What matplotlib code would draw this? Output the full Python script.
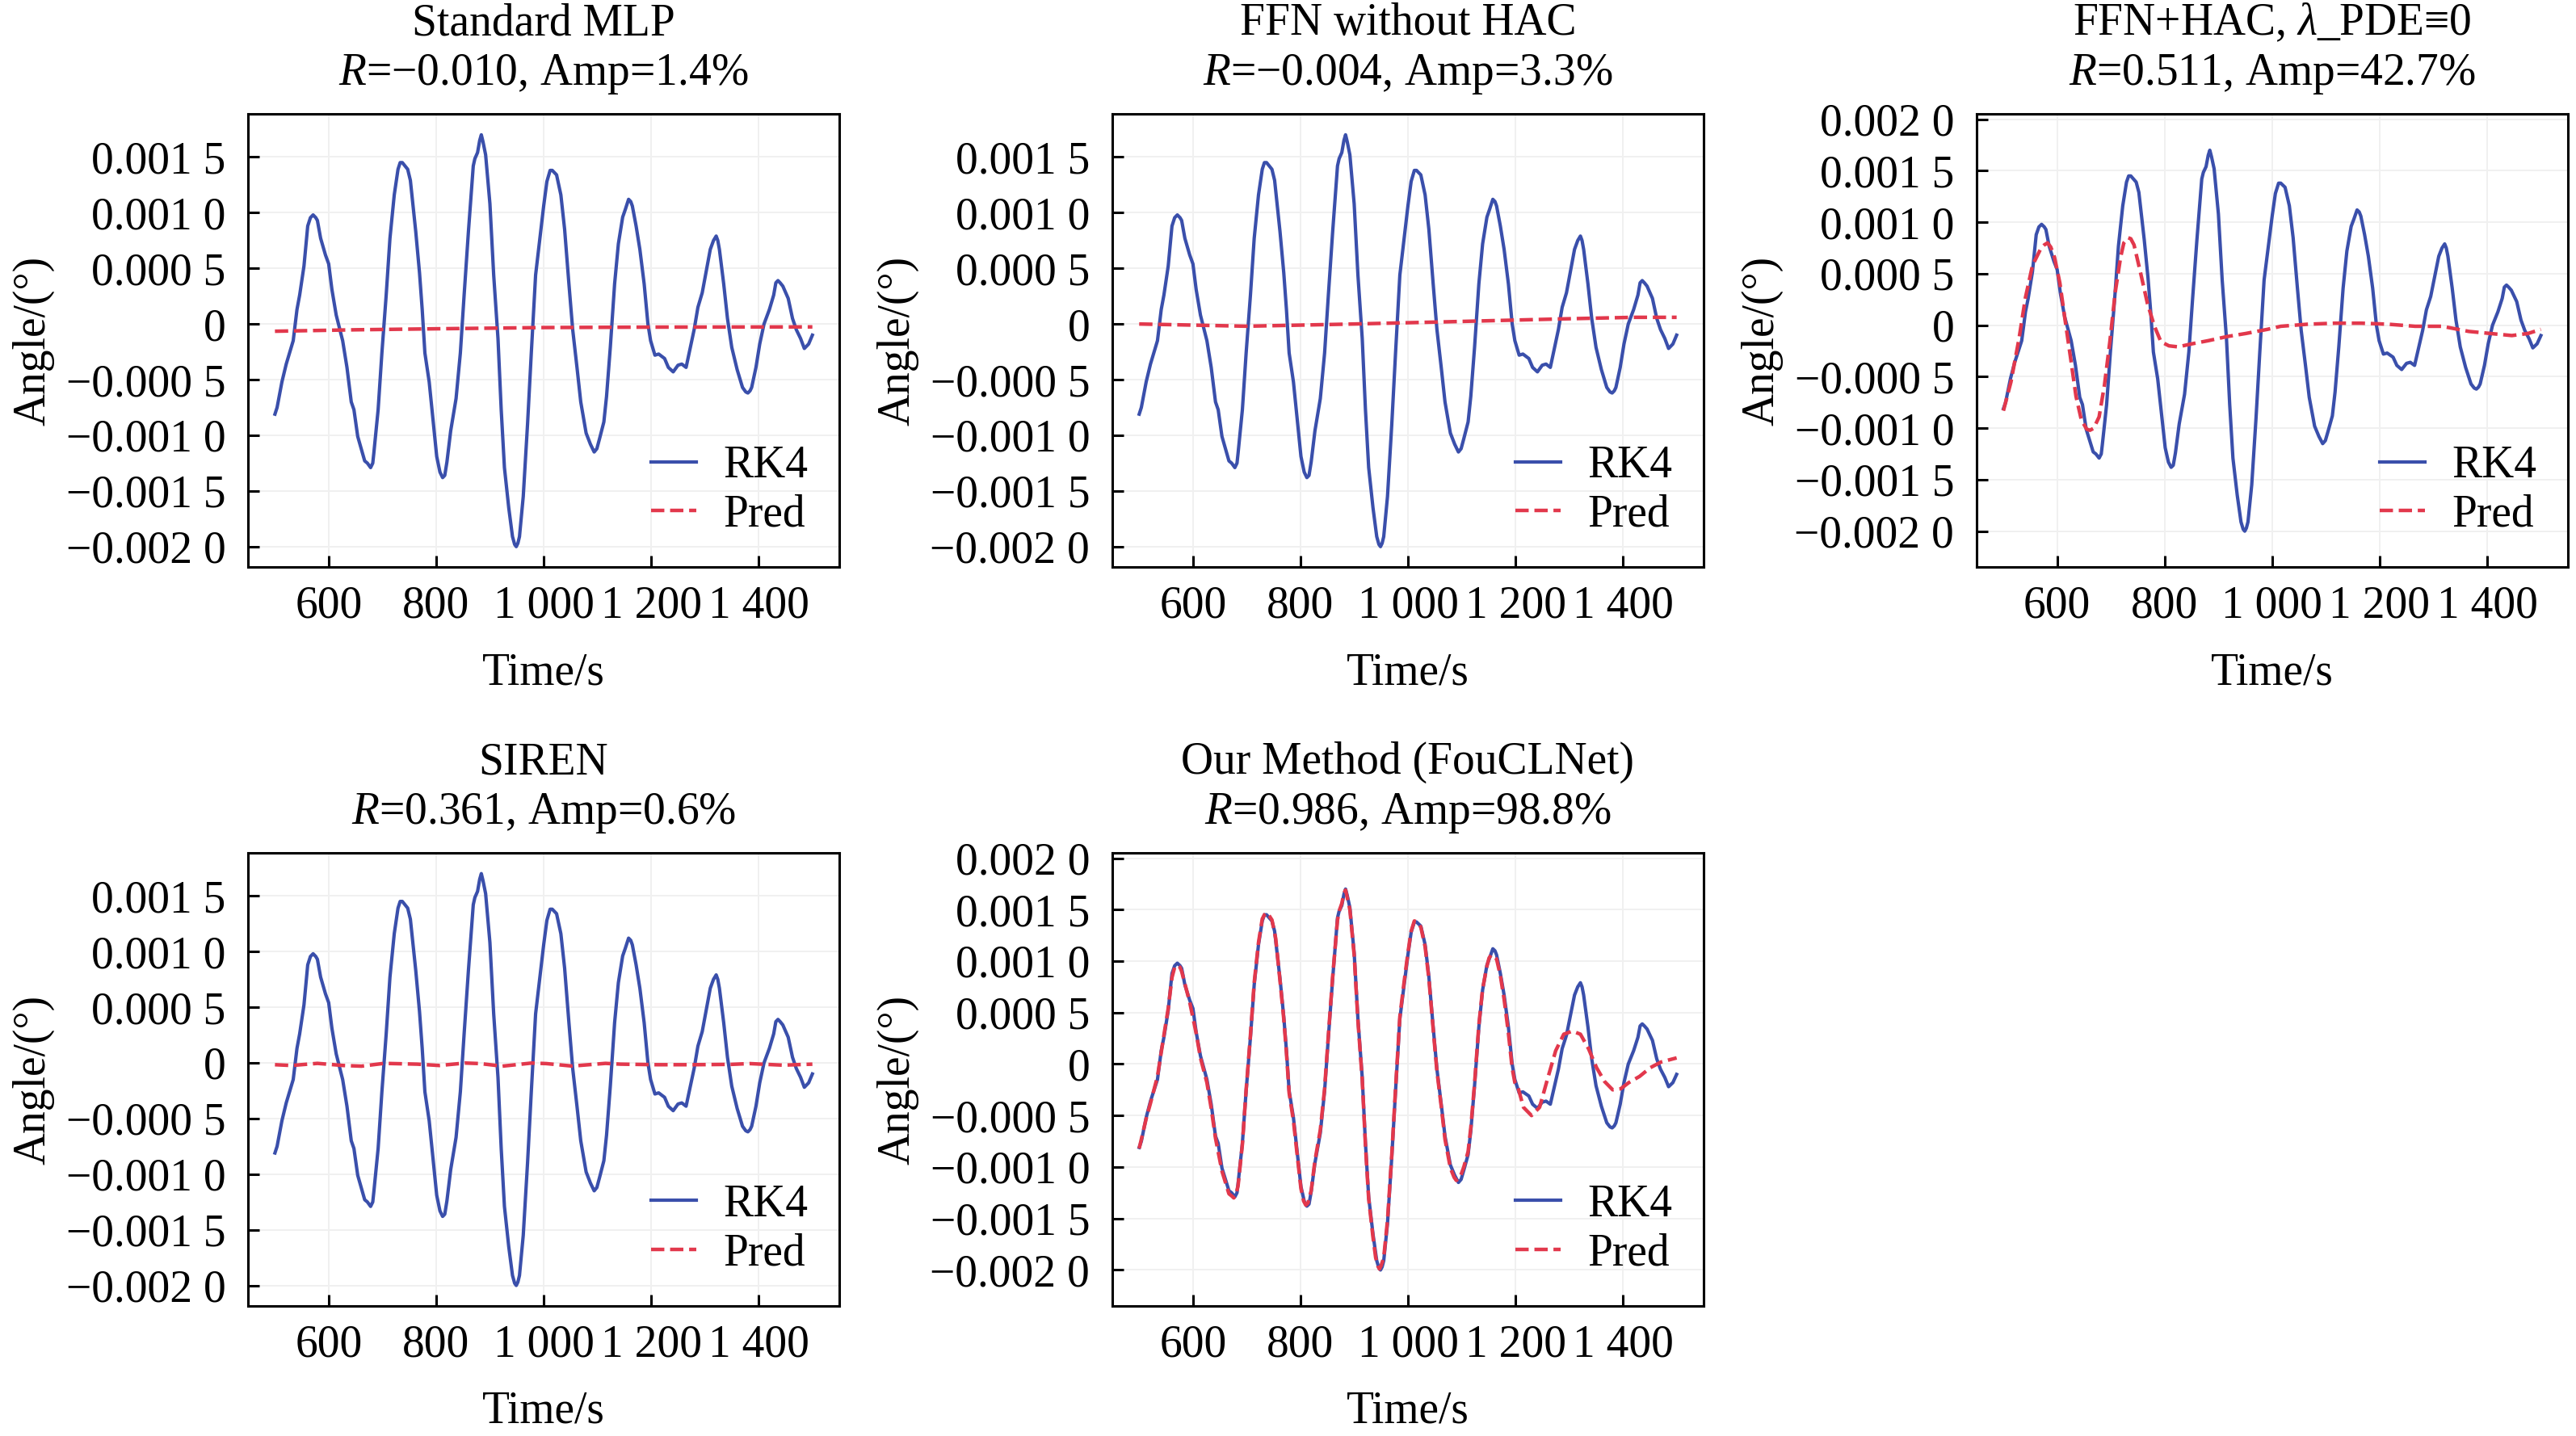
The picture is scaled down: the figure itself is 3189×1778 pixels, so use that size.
import numpy as np
import matplotlib
matplotlib.use('Agg')
import matplotlib.pyplot as plt
from matplotlib.ticker import MultipleLocator, FuncFormatter

plt.rcParams['font.family'] = ['Liberation Serif', 'DejaVu Serif']
plt.rcParams['mathtext.fontset'] = 'custom'
plt.rcParams['mathtext.rm'] = 'Liberation Serif'
plt.rcParams['mathtext.it'] = 'Liberation Serif:italic'

# ── data: (time s, angle in 1e-4 degree) ────────────────────────────────────
rk4_pts = [
    (500, -8.1), (504, -7.5), (513, -5.2), (521, -3.6), (534, -1.5), (541, 1.3),
    (546, 2.6), (554, 5.2), (561, 8.8), (566, 9.55), (571, 9.8), (576, 9.55),
    (579, 9.3), (585, 7.7), (594, 6.2), (600, 5.4), (606, 3.1), (614, 0.8),
    (626, -1.5), (634, -3.9), (642, -7.0), (647, -7.7), (654, -10.1),
    (667, -12.3), (672, -12.5), (678, -12.9), (682, -12.5), (684, -11.6),
    (692, -7.7), (699, -2.6), (707, 2.6), (714, 7.7), (722, 11.6), (729, 13.9),
    (733, 14.5), (737, 14.5), (742, 14.2), (747, 13.9), (752, 12.9), (762, 8.3),
    (769, 4.6), (774, 1.3), (779, -2.6), (787, -5.2), (795, -9.0), (801, -11.9),
    (807, -13.3), (812, -13.8), (816, -13.6), (820, -12.4), (827, -9.6),
    (837, -6.7), (845, -2.6), (852, 2.6), (860, 8.3), (869, 14.2), (872, 14.85),
    (877, 15.4), (881, 16.5), (884, 17.0), (887, 16.4), (892, 15.2), (900, 10.8),
    (907, 4.4), (915, -1.3), (921, -7.7), (927, -12.9), (935, -16.5),
    (942, -19.1), (946, -19.8), (949, -20.0), (952, -19.7), (955, -19.1),
    (962, -15.5), (970, -9.0), (977, -2.6), (985, 4.4), (993, 7.7), (1000, 10.6),
    (1006, 12.8), (1012, 13.8), (1016, 13.8), (1020, 13.6), (1024, 13.4),
    (1032, 11.6), (1039, 8.5), (1047, 3.6), (1054, -0.5), (1062, -3.9),
    (1069, -7.0), (1079, -9.8), (1087, -10.8), (1094, -11.5), (1099, -11.2),
    (1104, -10.3), (1112, -8.8), (1117, -6.5), (1124, -2.1), (1132, 3.6),
    (1139, 7.2), (1147, 9.6), (1152, 10.3), (1158, 11.2), (1162, 11.0),
    (1165, 10.6), (1172, 8.8), (1179, 6.7), (1187, 3.6), (1194, 0.0),
    (1199, -1.5), (1207, -2.8), (1214, -2.7), (1225, -3.1), (1232, -3.9),
    (1241, -4.3), (1250, -3.7), (1257, -3.6), (1265, -3.9), (1272, -2.3),
    (1280, -0.5), (1287, 1.5), (1295, 2.8), (1302, 4.6), (1310, 6.7),
    (1316, 7.5), (1321, 7.9), (1324, 7.5), (1327, 6.7), (1335, 3.6), (1342, 0.5),
    (1350, -2.1), (1360, -4.1), (1370, -5.7), (1376, -6.1), (1380, -6.2),
    (1384, -6.0), (1387, -5.7), (1395, -3.9), (1402, -1.8), (1410, 0.0),
    (1420, 1.3), (1428, 2.6), (1432, 3.7), (1436, 3.9), (1440, 3.7), (1445, 3.4),
    (1455, 2.3), (1463, 0.5), (1470, -0.5), (1478, -1.3), (1485, -2.2),
    (1493, -1.8), (1500, -1.0),
]

mlp_pts = [(500, -0.65), (650, -0.52), (800, -0.43), (1000, -0.32),
           (1200, -0.28), (1500, -0.26)]

ffn_pts = [(500, 0.0), (700, -0.2), (900, 0.0), (1075, 0.2), (1280, 0.45),
           (1420, 0.6), (1500, 0.6)]

hac_pts = [
    (500, -8.3), (514, -5.5), (529, -1.3), (541, 2.7), (554, 5.8), (570, 7.5),
    (576, 7.8), (582, 8.0), (588, 7.6), (595, 6.6), (605, 4.1), (615, 0.4),
    (625, -3.2), (635, -6.9), (645, -9.2), (655, -10.1), (661, -10.2),
    (668, -10.0), (678, -8.9), (688, -5.8), (698, -1.6), (708, 3.2), (718, 6.6),
    (724, 8.0), (732, 8.5), (737, 8.4), (743, 7.8), (756, 4.9), (768, 2.1),
    (781, -0.1), (793, -1.6), (808, -2.0), (825, -2.1), (851, -1.8), (881, -1.5),
    (916, -1.1), (951, -0.8), (991, -0.4), (1016, -0.1), (1066, 0.1),
    (1116, 0.2), (1166, 0.2), (1216, 0.1), (1266, -0.1), (1316, -0.1),
    (1366, -0.6), (1406, -0.8), (1446, -1.0), (1476, -0.8), (1500, -0.4),
]

siren_pts = [
    (500, -0.17), (531, -0.24), (579, -0.05), (627, -0.24), (661, -0.30),
    (703, -0.05), (765, -0.12), (806, -0.24), (854, -0.02), (882, -0.07),
    (923, -0.30), (978, -0.02), (1005, -0.07), (1053, -0.29), (1115, -0.05),
    (1143, -0.12), (1211, -0.17), (1280, -0.17), (1349, -0.14), (1383, -0.07),
    (1445, -0.21), (1500, -0.12),
]

fou_pts = [
    (500, -8.2), (513, -5.3), (521, -3.8), (534, -1.2), (546, 2.8), (554, 5.4),
    (561, 8.4), (566, 9.4), (571, 9.6), (576, 9.4), (579, 9.0), (585, 7.8),
    (594, 6.0), (606, 3.0), (614, 0.6), (626, -1.8), (634, -4.3), (642, -7.2),
    (654, -10.4), (667, -12.6), (672, -12.8), (676, -13.0), (680, -12.7),
    (684, -11.8), (692, -7.8), (699, -2.5), (707, 2.8), (714, 7.9), (722, 11.8),
    (729, 14.1), (733, 14.5), (737, 14.7), (742, 14.4), (747, 14.0), (754, 12.2),
    (762, 8.1), (769, 4.4), (774, 1.1), (779, -2.8), (787, -5.5), (795, -9.3),
    (801, -12.1), (806, -13.3), (810, -13.7), (814, -13.5), (820, -12.3),
    (827, -9.4), (837, -6.4), (845, -2.4), (852, 2.8), (860, 8.5), (869, 14.0),
    (873, 15.0), (877, 15.6), (881, 16.6), (884, 16.9), (887, 16.2), (892, 15.0),
    (900, 10.6), (907, 4.2), (915, -1.5), (921, -7.9), (927, -13.1),
    (935, -16.8), (940, -18.8), (944, -19.6), (947, -19.9), (950, -19.6),
    (955, -18.8), (962, -15.2), (970, -8.8), (977, -2.4), (985, 4.6), (993, 8.0),
    (1000, 10.8), (1006, 12.9), (1012, 13.9), (1017, 13.8), (1024, 13.3),
    (1032, 11.4), (1039, 8.3), (1047, 3.4), (1054, -0.7), (1062, -4.1),
    (1069, -7.3), (1079, -10.1), (1086, -11.0), (1090, -11.3), (1097, -11.0),
    (1104, -10.0), (1112, -8.5), (1117, -6.2), (1124, -1.9), (1132, 3.8),
    (1139, 7.3), (1147, 9.5), (1151, 10.3), (1155, 10.6), (1159, 10.5),
    (1165, 10.2), (1172, 8.6), (1179, 6.3), (1187, 3.0), (1194, -0.4),
    (1199, -1.8), (1205, -2.3), (1215, -4.2), (1230, -5.0), (1245, -4.2),
    (1260, -1.4), (1275, 1.3), (1290, 2.9), (1306, 3.2), (1321, 2.9),
    (1336, 1.5), (1351, -0.35), (1366, -1.7), (1381, -2.5), (1396, -2.4),
    (1411, -1.8), (1431, -1.2), (1451, -0.35), (1471, 0.2), (1500, 0.6),
]

titles = ['Standard MLP\n$R$=\u22120.010, Amp=1.4%',
          'FFN without HAC\n$R$=\u22120.004, Amp=3.3%',
          'FFN+HAC, $\\lambda$_PDE\u22610\n$R$=0.511, Amp=42.7%',
          'SIREN\n$R$=0.361, Amp=0.6%',
          'Our Method (FouCLNet)\n$R$=0.986, Amp=98.8%']
preds = [mlp_pts, ffn_pts, hac_pts, siren_pts, fou_pts]
wide_ylim = [False, False, True, False, True]

BLUE = '#3a4fab'
RED = '#e2384c'
FS = 20
SCALE = 1e-4   # data lists are in units of 1e-4 degree


def fmt_y(v, pos):
    if abs(v) < 1e-12:
        return '0'
    s = f'{abs(v):.4f}'
    s = s[:-1] + ' ' + s[-1]
    return ('\u2212' if v < 0 else '') + s


def fmt_x(v, pos):
    return f'{int(round(v)):,}'.replace(',', ' ')


def split(pts):
    t, v = zip(*pts)
    return np.array(t), np.array(v) * SCALE


fig = plt.figure(figsize=(15.945, 8.89), dpi=200)
lefts = [0.0963, 0.4318, 0.7673]
bottoms = [0.605, 0.0905]
W, H = 0.2295, 0.3155

t_r, v_r = split(rk4_pts)

for i, (title, pts) in enumerate(zip(titles, preds)):
    row, col = divmod(i, 3)
    ax = fig.add_axes([lefts[col], bottoms[row], W, H])
    tp, vp = split(pts)
    ax.plot(t_r, v_r, color=BLUE, lw=1.5, label='RK4', zorder=3)
    ax.plot(tp, vp, color=RED, lw=1.6, ls='--', label='Pred', zorder=4)

    ax.xaxis.set_major_locator(MultipleLocator(200))
    ax.yaxis.set_major_locator(MultipleLocator(0.0005))
    ax.xaxis.set_major_formatter(FuncFormatter(fmt_x))
    ax.yaxis.set_major_formatter(FuncFormatter(fmt_y))
    if wide_ylim[i]:
        ax.set_ylim(-0.00235, 0.00205)

    ax.tick_params(direction='in', length=5, width=1.1, labelsize=FS, pad=10)
    ax.tick_params(axis='x', pad=8)
    for sp in ax.spines.values():
        sp.set_linewidth(1.1)
    ax.grid(True, color='#f0f0f0', lw=0.7, zorder=0)

    ax.set_xlabel('Time/s', fontsize=FS, labelpad=11)
    ax.set_ylabel('Angle/(\u00b0)', fontsize=FS, labelpad=5)
    ax.set_title(title, fontsize=FS, pad=13, linespacing=1.25)
    ax.legend(loc='lower right', frameon=False, fontsize=FS,
              handlelength=1.0, handletextpad=0.6, labelspacing=0.15,
              borderaxespad=0.3)

fig.savefig('out.png', dpi=200)
